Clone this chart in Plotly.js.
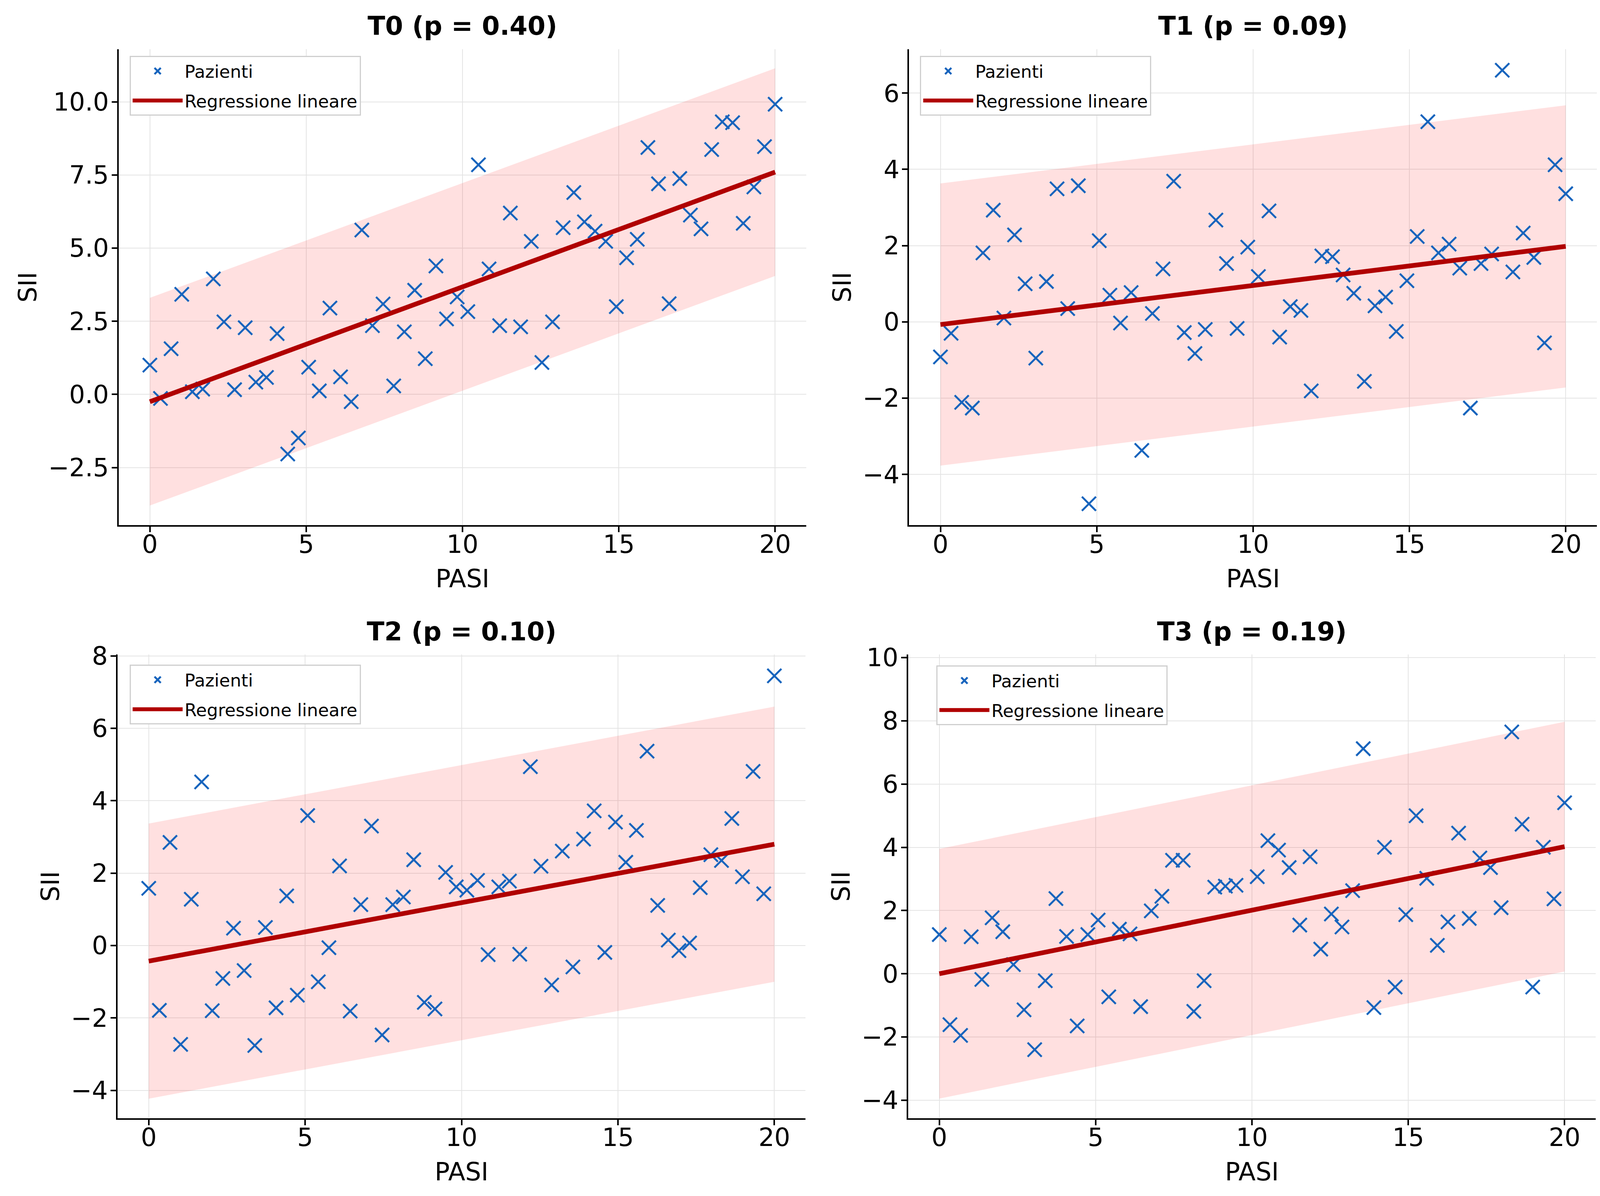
<!DOCTYPE html>
<html>
<head>
<meta charset="utf-8">
<script src="https://cdn.plot.ly/plotly-3.0.1.min.js"></script>
<style>
  html, body { margin: 0; padding: 0; background: #fff; overflow: hidden; }
  #chart { width: 100vw; height: 100vh; }
</style>
</head>
<body>
<div id="chart"></div>
<script>
/* PASI vs SII scatter, four time points (T0..T3), 2x2 grid */

// PASI values shared by all four panels
var PASI = [0.00, 0.34, 0.68, 1.02, 1.36, 1.69, 2.03, 2.37, 2.71, 3.05,
            3.39, 3.73, 4.07, 4.41, 4.75, 5.08, 5.42, 5.76, 6.10, 6.44,
            6.78, 7.12, 7.46, 7.80, 8.14, 8.47, 8.81, 9.15, 9.49, 9.83,
            10.17, 10.51, 10.85, 11.19, 11.53, 11.86, 12.20, 12.54, 12.88, 13.22,
            13.56, 13.90, 14.24, 14.58, 14.92, 15.25, 15.59, 15.93, 16.27, 16.61,
            16.95, 17.29, 17.63, 17.97, 18.31, 18.64, 18.98, 19.32, 19.66, 20.00];

var SII_T0 = [1.00, -0.14, 1.56, 3.42, 0.09, 0.18, 3.95, 2.48, 0.16, 2.28,
              0.42, 0.58, 2.08, -2.04, -1.49, 0.93, 0.12, 2.95, 0.60, -0.25,
              5.62, 2.35, 3.09, 0.29, 2.14, 3.56, 1.22, 4.39, 2.58, 3.33,
              2.83, 7.85, 4.29, 2.35, 6.20, 2.31, 5.23, 1.09, 2.48, 5.70,
              6.90, 5.90, 5.58, 5.23, 3.00, 4.67, 5.30, 8.44, 7.20, 3.10,
              7.38, 6.13, 5.66, 8.37, 9.32, 9.29, 5.85, 7.09, 8.47, 9.92];

var SII_T1 = [-0.92, -0.30, -2.11, -2.26, 1.81, 2.93, 0.10, 2.28, 1.00, -0.95,
              1.06, 3.49, 0.35, 3.57, -4.77, 2.13, 0.70, -0.03, 0.77, -3.37,
              0.22, 1.39, 3.69, -0.28, -0.83, -0.20, 2.67, 1.53, -0.17, 1.96,
              1.19, 2.91, -0.40, 0.40, 0.30, -1.81, 1.73, 1.71, 1.23, 0.75,
              -1.56, 0.42, 0.65, -0.25, 1.08, 2.24, 5.25, 1.81, 2.04, 1.41,
              -2.26, 1.53, 1.78, 6.60, 1.31, 2.33, 1.69, -0.55, 4.12, 3.36];

var SII_T2 = [1.58, -1.79, 2.85, -2.73, 1.28, 4.52, -1.80, -0.91, 0.48, -0.69,
              -2.76, 0.50, -1.72, 1.37, -1.37, 3.59, -1.00, -0.06, 2.20, -1.81,
              1.13, 3.30, -2.47, 1.13, 1.34, 2.37, -1.57, -1.75, 2.02, 1.62,
              1.53, 1.80, -0.25, 1.62, 1.78, -0.24, 4.94, 2.19, -1.09, 2.61,
              -0.59, 2.94, 3.72, -0.19, 3.41, 2.30, 3.18, 5.37, 1.11, 0.15,
              -0.14, 0.07, 1.60, 2.51, 2.35, 3.51, 1.90, 4.81, 1.43, 7.45];

// one patient is not visible in T3 (PASI 9.83)
var SII_T3 = [1.24, -1.61, -1.95, 1.17, -0.18, 1.77, 1.33, 0.29, -1.14, -2.40,
              -0.22, 2.38, 1.18, -1.65, 1.24, 1.70, -0.73, 1.41, 1.26, -1.04,
              1.99, 2.45, 3.59, 3.59, -1.19, -0.22, 2.74, 2.77, 2.80, null,
              3.07, 4.21, 3.91, 3.36, 1.54, 3.70, 0.78, 1.89, 1.48, 2.63,
              7.12, -1.07, 4.00, -0.42, 1.87, 5.00, 3.02, 0.90, 1.64, 4.45,
              1.75, 3.66, 3.36, 2.09, 7.65, 4.73, -0.42, 4.00, 2.37, 5.41];

// regression line: fitted SII at PASI 0 and PASI 20, and the half width of the band
var FIT_X = [0, 20];
var FIT_T0 = [-0.25, 7.60];
var FIT_T1 = [-0.07, 1.98];
var FIT_T2 = [-0.43, 2.80];
var FIT_T3 = [0.00, 4.02];
var BAND = [3.55, 3.70, 3.80, 3.95];

var TITLES = ["T0 (p = 0.40)", "T1 (p = 0.09)", "T2 (p = 0.10)", "T3 (p = 0.19)"];

/* ---- look ---- */
var BLUE = "#1764bd";
var RED = "#b00000";
var PINK = "rgba(255,0,0,0.12)";
var GRID = "#e4e4e4";
var FONT = "DejaVu Sans, sans-serif";
// boxes are measured on a 4250 x 3061 frame; the page fills whatever window it gets
var RW = 4250, RH = 3061;
var W = window.innerWidth || RW, H = window.innerHeight || RH;

// panel boxes in frame pixels: [left, right, top, bottom]
var BOX = [
  [315, 2142, 126, 1344],
  [2415, 4242, 126, 1344],
  [312, 2140, 1675, 2862],
  [2412, 4239, 1675, 2862]
];
var YRANGE = [[-4.47, 11.8], [-5.33, 7.15], [-4.77, 8.04], [-4.57, 10.1]];
var YDTICK = [2.5, 2, 2, 2];
var LEGPOS = [[344, 143], [2444, 143], [344, 1701], [2487, 1703]];

var series = [SII_T0, SII_T1, SII_T2, SII_T3];
var fits = [FIT_T0, FIT_T1, FIT_T2, FIT_T3];

var traces = [];
var layout = {
  width: W, height: H,
  margin: { l: 0, r: 0, t: 0, b: 0 },
  paper_bgcolor: "#fff", plot_bgcolor: "#fff",
  font: { family: FONT, color: "#000", size: 64 },
  showlegend: true,
  annotations: []
};

for (var p = 0; p < 4; p++) {
  var n = p === 0 ? "" : String(p + 1);
  var xa = "x" + n, ya = "y" + n;
  var leg = "legend" + n;
  var fit = fits[p];
  var lo = fit.map(function (v) { return v - BAND[p]; });
  var hi = fit.map(function (v) { return v + BAND[p]; });

  traces.push({
    type: "scatter", mode: "lines", x: FIT_X, y: lo, xaxis: xa, yaxis: ya,
    line: { width: 0, color: PINK }, hoverinfo: "skip", showlegend: false, legend: leg
  });
  traces.push({
    type: "scatter", mode: "lines", x: FIT_X, y: hi, xaxis: xa, yaxis: ya,
    fill: "tonexty", fillcolor: PINK,
    line: { width: 0, color: PINK }, hoverinfo: "skip", showlegend: false, legend: leg
  });
  traces.push({
    type: "scatter", mode: "markers", name: "Pazienti", x: PASI, y: series[p],
    xaxis: xa, yaxis: ya, legend: leg, legendgroup: "pts" + p,
    marker: { symbol: "x-thin", size: 36, color: BLUE, line: { color: BLUE, width: 5 } }
  });
  traces.push({
    type: "scatter", mode: "lines", name: "Regressione lineare", x: FIT_X, y: fit,
    xaxis: xa, yaxis: ya, legend: leg, legendgroup: "fit" + p,
    line: { color: RED, width: 12 }
  });

  var b = BOX[p];
  var common = {
    showline: true, linecolor: "#000", linewidth: 4, mirror: false,
    ticks: "outside", ticklen: 14, tickwidth: 4, tickcolor: "#000",
    showgrid: true, gridcolor: GRID, gridwidth: 2, zeroline: false,
    tickfont: { family: FONT, size: 64, color: "#000" }
  };
  layout["xaxis" + n] = Object.assign({}, common, {
    domain: [b[0] / RW, b[1] / RW], anchor: ya, range: [-1, 21],
    tickvals: [0, 5, 10, 15, 20], ticklabelstandoff: -24,
    title: { text: "PASI", font: { family: FONT, size: 64, color: "#000" }, standoff: 30 }
  });
  layout["yaxis" + n] = Object.assign({}, common, {
    domain: [1 - b[3] / RH, 1 - b[2] / RH], anchor: xa, range: YRANGE[p],
    tick0: 0, dtick: YDTICK[p], tickformat: p === 0 ? ".1f" : "d",
    ticklabelstandoff: -6,
    title: { text: "SII", font: { family: FONT, size: 64, color: "#000" }, standoff: 10 }
  });
  layout[leg] = {
    x: LEGPOS[p][0] / RW, y: 1 - LEGPOS[p][1] / RH, xanchor: "left", yanchor: "top",
    traceorder: "grouped", tracegroupgap: 14, itemwidth: 128,
    bgcolor: "#fff", bordercolor: "#cfcfcf", borderwidth: 3,
    font: { family: FONT, size: 45, color: "#000" }
  };
  layout.annotations.push({
    xref: "paper", yref: "paper", x: (b[0] + b[1]) / 2 / RW,
    y: 1 - (b[2] - 59) / RH, yanchor: "middle", xanchor: "center", showarrow: false,
    text: "<b>" + TITLES[p] + "</b>", font: { family: FONT, size: 66, color: "#000" }
  });
}

Plotly.newPlot("chart", traces, layout, { displayModeBar: false, staticPlot: true });
</script>
</body>
</html>
